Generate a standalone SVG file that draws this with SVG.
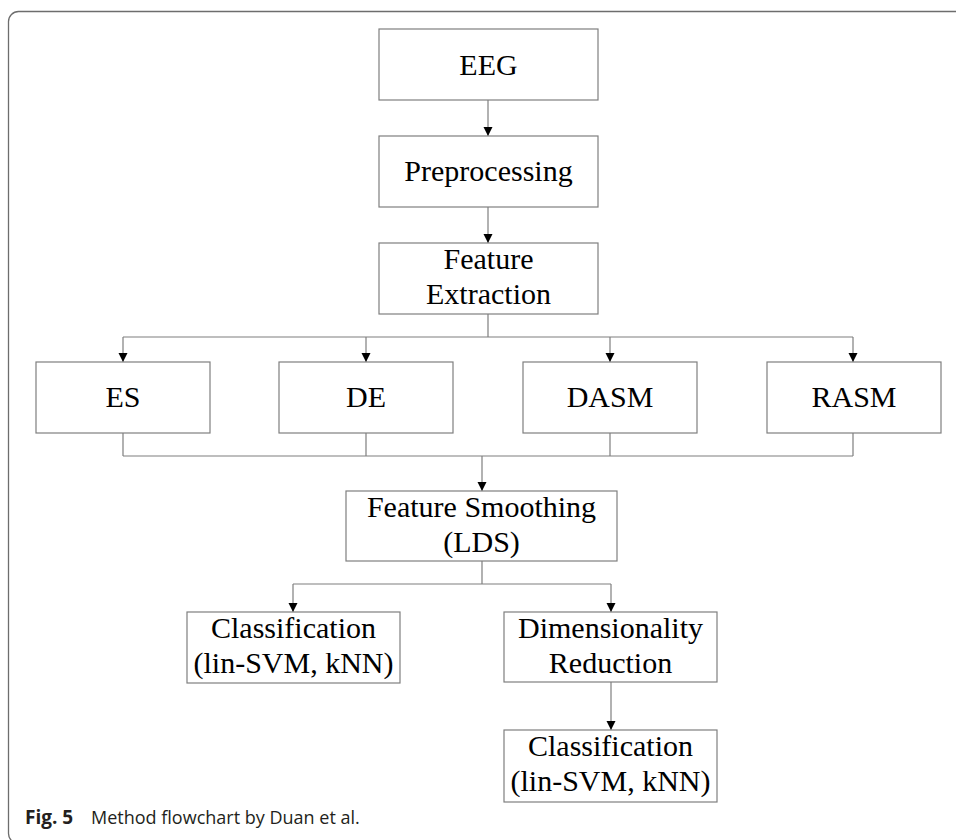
<svg xmlns="http://www.w3.org/2000/svg" width="956" height="840" viewBox="0 0 956 840">
  <defs>
    <marker id="arrow" markerWidth="10" markerHeight="10" refX="9" refY="4.5" orient="auto" markerUnits="userSpaceOnUse">
      <path d="M0,0 L9,4.5 L0,9 Z" fill="#000"/>
    </marker>
    <style>
      .box { fill: #fff; stroke: #7f7f7f; stroke-width: 1.2; }
      .lbl { font-family: "Liberation Serif", "Times New Roman", serif; font-size: 30px; fill: #000; text-anchor: middle; }
      .wire { fill: none; stroke: #7f7f7f; stroke-width: 1.2; }
      .cap { font-family: "Open Sans", "Noto Sans", sans-serif; font-size: 18px; fill: #231f20; }
    </style>
  </defs>

  <rect width="956" height="840" fill="#fff"/>
  <!-- figure frame -->
  <rect x="8.5" y="11.5" width="1000" height="832" rx="10" ry="10" fill="none" stroke="#6d6d6d" stroke-width="1.3"/>

  <g id="connectors">
    <line class="wire" x1="488" y1="100" x2="488" y2="136" marker-end="url(#arrow)"/>
    <line class="wire" x1="488" y1="207" x2="488" y2="243" marker-end="url(#arrow)"/>
    <path class="wire" d="M488,314 V337 M123,337 H853"/>
    <line class="wire" x1="123" y1="337" x2="123" y2="362" marker-end="url(#arrow)"/>
    <line class="wire" x1="366" y1="337" x2="366" y2="362" marker-end="url(#arrow)"/>
    <line class="wire" x1="610" y1="337" x2="610" y2="362" marker-end="url(#arrow)"/>
    <line class="wire" x1="853" y1="337" x2="853" y2="362" marker-end="url(#arrow)"/>
    <path class="wire" d="M123,433 V456 M366,433 V456 M610,433 V456 M853,433 V456 M123,456 H853"/>
    <line class="wire" x1="482" y1="456" x2="482" y2="491" marker-end="url(#arrow)"/>
    <path class="wire" d="M482,561 V584 M293,584 H611"/>
    <line class="wire" x1="293" y1="584" x2="293" y2="612" marker-end="url(#arrow)"/>
    <line class="wire" x1="611" y1="584" x2="611" y2="612" marker-end="url(#arrow)"/>
    <line class="wire" x1="611" y1="682" x2="611" y2="730" marker-end="url(#arrow)"/>
  </g>

  <g id="eeg">
    <rect class="box" x="379" y="29" width="219" height="71"/>
    <text class="lbl" x="488.5" y="75">EEG</text>
  </g>
  <g id="preprocessing">
    <rect class="box" x="379" y="136" width="219" height="71"/>
    <text class="lbl" x="488.5" y="181">Preprocessing</text>
  </g>
  <g id="feature-extraction">
    <rect class="box" x="379" y="243" width="219" height="71"/>
    <text class="lbl" x="488.5" y="269">Feature</text>
    <text class="lbl" x="488.5" y="304">Extraction</text>
  </g>
  <g id="es">
    <rect class="box" x="36" y="362" width="174" height="71"/>
    <text class="lbl" x="123" y="407">ES</text>
  </g>
  <g id="de">
    <rect class="box" x="279" y="362" width="174" height="71"/>
    <text class="lbl" x="366" y="407">DE</text>
  </g>
  <g id="dasm">
    <rect class="box" x="523" y="362" width="174" height="71"/>
    <text class="lbl" x="610" y="407">DASM</text>
  </g>
  <g id="rasm">
    <rect class="box" x="767" y="362" width="174" height="71"/>
    <text class="lbl" x="854" y="407">RASM</text>
  </g>
  <g id="feature-smoothing">
    <rect class="box" x="346" y="491" width="271" height="70"/>
    <text class="lbl" x="481.5" y="517">Feature Smoothing</text>
    <text class="lbl" x="481.5" y="552">(LDS)</text>
  </g>
  <g id="classification-1">
    <rect class="box" x="187" y="612" width="213" height="71"/>
    <text class="lbl" x="293.5" y="638">Classification</text>
    <text class="lbl" x="293.5" y="673">(lin-SVM, kNN)</text>
  </g>
  <g id="dimensionality-reduction">
    <rect class="box" x="504" y="612" width="213" height="70"/>
    <text class="lbl" x="610.5" y="638">Dimensionality</text>
    <text class="lbl" x="610.5" y="673">Reduction</text>
  </g>
  <g id="classification-2">
    <rect class="box" x="504" y="730" width="213" height="72"/>
    <text class="lbl" x="610.5" y="756">Classification</text>
    <text class="lbl" x="610.5" y="791">(lin-SVM, kNN)</text>
  </g>

  <g id="caption">
    <text class="cap" x="25" y="824"><tspan font-weight="bold" font-size="19">Fig. 5</tspan><tspan x="91">Method flowchart by Duan et al.</tspan></text>
  </g>
</svg>
